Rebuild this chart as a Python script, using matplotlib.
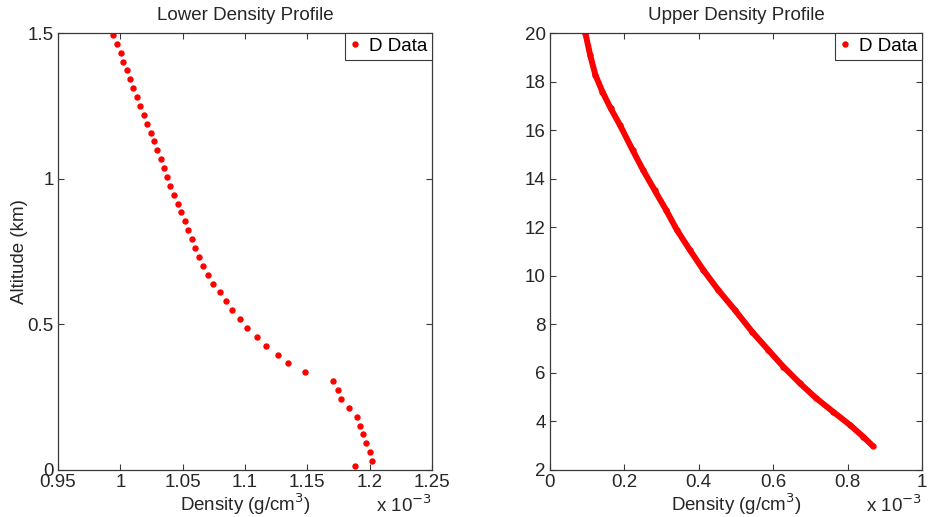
import matplotlib
matplotlib.use("Agg")
import matplotlib.pyplot as plt
from matplotlib.ticker import FuncFormatter

plt.rcParams['font.family'] = ['Liberation Sans', 'DejaVu Sans']
plt.rcParams['font.size'] = 13.5

# lower profile: altitude (km), density (x 1e-3 g/cm^3)
lower_alt = [0.015, 0.030, 0.061, 0.091, 0.122, 0.152, 0.183, 0.213, 0.244, 0.274,
             0.305, 0.335, 0.366, 0.396, 0.427, 0.457, 0.488, 0.518, 0.549, 0.579,
             0.610, 0.640, 0.671, 0.701, 0.732, 0.762, 0.792, 0.823, 0.853, 0.884,
             0.914, 0.945, 0.975, 1.006, 1.036, 1.067, 1.097, 1.128, 1.158, 1.189,
             1.219, 1.250, 1.280, 1.311, 1.341, 1.372, 1.402, 1.433, 1.463, 1.494]
lower_dens = [1.1886, 1.2018, 1.2002, 1.1970, 1.1950, 1.1924, 1.1897, 1.1836, 1.1769, 1.1745,
              1.1707, 1.1482, 1.1348, 1.1263, 1.1169, 1.1097, 1.1019, 1.0958, 1.0896, 1.0848,
              1.0798, 1.0746, 1.0706, 1.0666, 1.0629, 1.0602, 1.0573, 1.0546, 1.0517, 1.0487,
              1.0461, 1.0431, 1.0399, 1.0372, 1.0348, 1.0324, 1.0297, 1.0273, 1.0244, 1.0217,
              1.0190, 1.0156, 1.0132, 1.0104, 1.0078, 1.0054, 1.0024, 1.0003, 0.9976, 0.9944]

# upper profile
upper_alt = [3.00, 3.37, 3.86, 4.40, 4.95, 5.57, 6.26, 6.94, 7.70, 8.59,
             9.42, 10.24, 11.06, 11.89, 12.71, 13.53, 14.36, 15.18, 16.21, 16.90,
             17.58, 18.27, 19.09, 20.00]
upper_dens = [0.867, 0.842, 0.806, 0.761, 0.716, 0.672, 0.627, 0.587, 0.543, 0.497,
              0.452, 0.412, 0.376, 0.341, 0.312, 0.281, 0.250, 0.222, 0.188, 0.163,
              0.141, 0.122, 0.108, 0.095]

lower_xticks = [0.95, 1.0, 1.05, 1.1, 1.15, 1.2, 1.25]
lower_yticks = [0, 0.5, 1, 1.5]
upper_xticks = [0, 0.2, 0.4, 0.6, 0.8, 1.0]
upper_yticks = [2, 4, 6, 8, 10, 12, 14, 16, 18, 20]

edge = '#3a3a3a'
txt = '#262626'
fmt = FuncFormatter(lambda v, p: f"{v:g}")

fig = plt.figure(figsize=(9.29, 5.17), dpi=100)
ax1 = fig.add_axes([58 / 929, 47 / 517, 374 / 929, 437 / 517])
ax2 = fig.add_axes([550 / 929, 47 / 517, 372 / 929, 437 / 517])


def style(ax, xt, yt, title):
    ax.set_xticks(xt)
    ax.set_yticks(yt)
    ax.set_xlim(xt[0], xt[-1])
    ax.set_ylim(yt[0], yt[-1])
    ax.xaxis.set_major_formatter(fmt)
    ax.yaxis.set_major_formatter(fmt)
    ax.tick_params(direction='in', top=True, right=True, length=4, width=0.8,
                   color=edge, labelcolor=txt, pad=3)
    for s in ax.spines.values():
        s.set_color(edge)
        s.set_linewidth(0.9)
    ax.set_title(title, color=txt, fontsize=13.5, pad=9)
    ax.set_xlabel('Density (g/cm$^3$)', color=txt, labelpad=0)
    ax.text(1.0, -0.08, r'x 10$^{-3}$', transform=ax.transAxes, ha='right', va='center',
            color=txt)
    leg = ax.legend(loc='upper right', borderaxespad=0, fancybox=False, edgecolor=edge,
                    handlelength=0.6, handletextpad=0.45, borderpad=0.25, framealpha=1)
    leg.get_frame().set_linewidth(0.8)


ax1.plot(lower_dens, lower_alt, 'o', color='red', ms=4.6, mec='none', label='D Data')
style(ax1, lower_xticks, lower_yticks, 'Lower Density Profile')
ax1.set_ylabel('Altitude (km)', color=txt, labelpad=0)

ax2.plot(upper_dens, upper_alt, '-', color='red', lw=4.3, solid_capstyle='round')
ax2.plot(upper_dens, upper_alt, 'o', color='red', ms=4.6, mec='none', label='D Data')
style(ax2, upper_xticks, upper_yticks, 'Upper Density Profile')

fig.savefig('out.png', dpi=100)
